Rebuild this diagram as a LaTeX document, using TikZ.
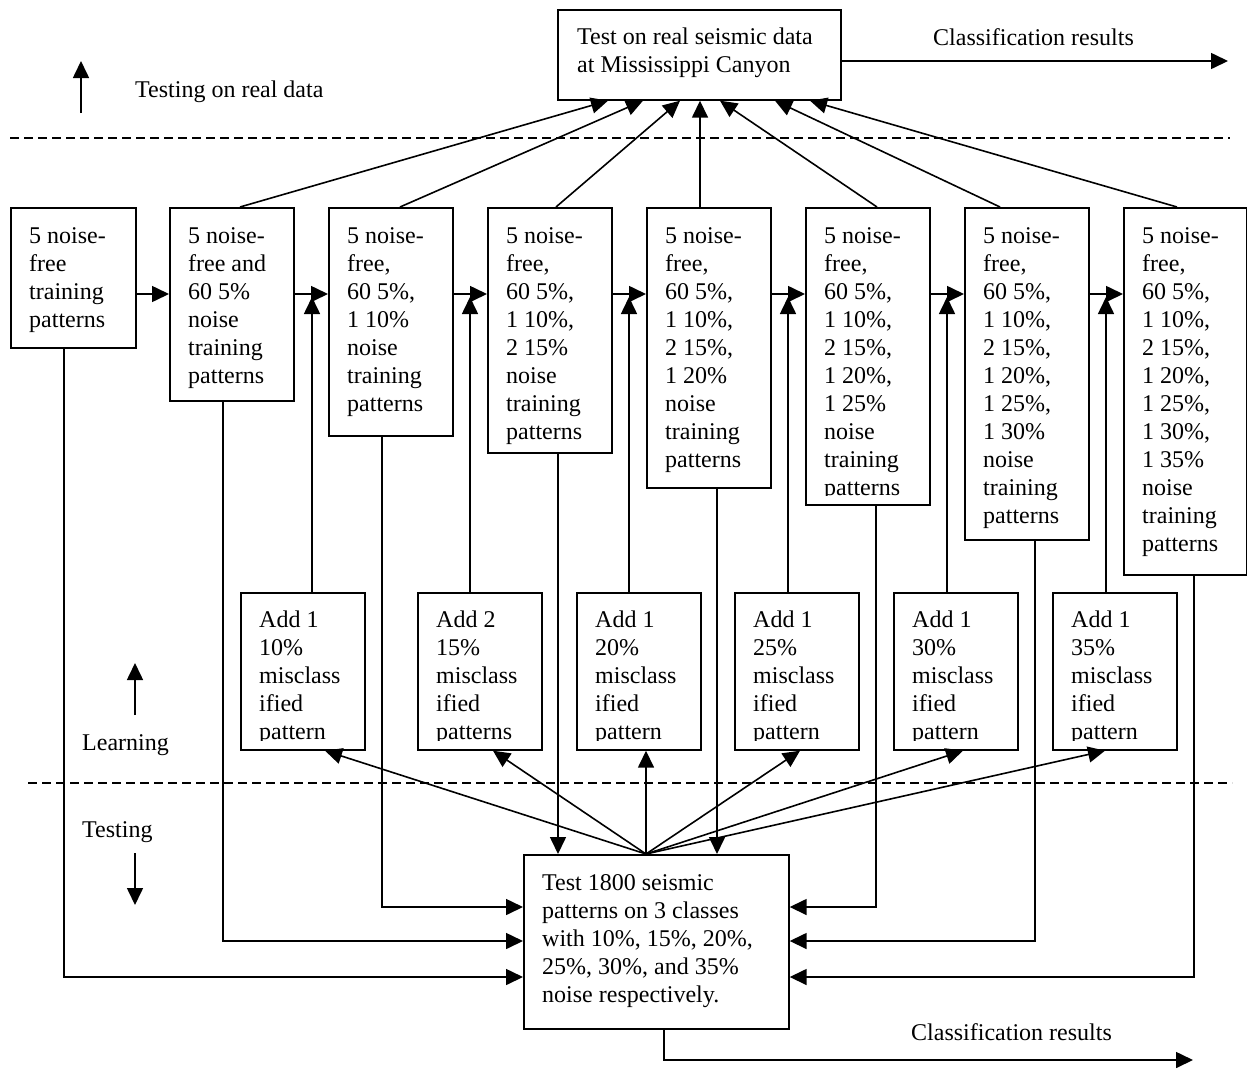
\documentclass[tikz,border=0pt]{standalone}
\usepackage{fontspec}
\setmainfont{Liberation Serif}
\usetikzlibrary{arrows.meta,calc}
\begin{document}
\begin{tikzpicture}[x=1pt,y=-1pt,
  box/.style={draw,line width=1.7pt,inner sep=0pt,anchor=north west},
  txt/.style={anchor=north west,inner sep=0pt,align=left,font=\fontsize{24}{28}\selectfont},
  lbl/.style={anchor=base west,inner sep=0pt,font=\fontsize{24}{28}\selectfont},
  arr/.style={line width=1.6pt,-{Triangle[length=17pt,width=16pt]}},
  ln/.style={line width=1.6pt},
  dsh/.style={line width=1.5pt,dash pattern=on 9pt off 5pt}]
\useasboundingbox (0,0) rectangle (1247,1071);
\fill[white] (0,0) rectangle (1247,1071);

% dashed separators
\coordinate (d1a) at (10,138);
\coordinate (d1b) at (1230,138);
\coordinate (d2a) at (28,783);
\coordinate (d2b) at (1232,783);
\draw[dsh] (d1a) -- (d1b);
\draw[dsh] (d2a) -- (d2b);

% top box
\node[box,minimum width=283pt,minimum height=90pt,fill=white] (T) at (557,9) {};
\node[txt] (Tt) at (577,24.4) {\strut Test on real seismic data\\at Mississippi Canyon};

% bottom box
\node[box,minimum width=265pt,minimum height=174pt] (B) at (523,854) {};
\node[txt] (Bt) at (542,870.4) {\strut Test 1800 seismic\\patterns on 3 classes\\with 10\%, 15\%, 20\%,\\25\%, 30\%, and 35\%\\noise respectively.};

% row of training boxes
\node[box,minimum width=125pt,minimum height=140pt] (b1) at (10,207) {};
\node[txt] (b1t) at (29,223.4) {\strut 5 noise-\\free\\training\\patterns};
\node[box,minimum width=124pt,minimum height=193pt] (b2) at (169,207) {};
\node[txt] (b2t) at (188,223.4) {\strut 5 noise-\\free and\\60 5\%\\noise\\training\\patterns};
\node[box,minimum width=124pt,minimum height=228pt] (b3) at (328,207) {};
\node[txt] (b3t) at (347,223.4) {\strut 5 noise-\\free,\\60 5\%,\\1 10\%\\noise\\training\\patterns};
\node[box,minimum width=124pt,minimum height=245pt] (b4) at (487,207) {};
\node[txt] (b4t) at (506,223.4) {\strut 5 noise-\\free,\\60 5\%,\\1 10\%,\\2 15\%\\noise\\training\\patterns};
\node[box,minimum width=124pt,minimum height=280pt] (b5) at (646,207) {};
\node[txt] (b5t) at (665,223.4) {\strut 5 noise-\\free,\\60 5\%,\\1 10\%,\\2 15\%,\\1 20\%\\noise\\training\\patterns};
\node[box,minimum width=124pt,minimum height=297pt] (b6) at (805,207) {};
\begin{scope}
\clip (805,207) rectangle (929,495);
\node[txt] (b6t) at (824,223.4) {\strut 5 noise-\\free,\\60 5\%,\\1 10\%,\\2 15\%,\\1 20\%,\\1 25\%\\noise\\training\\patterns};
\end{scope}
\node[box,minimum width=124pt,minimum height=332pt] (b7) at (964,207) {};
\node[txt] (b7t) at (983,223.4) {\strut 5 noise-\\free,\\60 5\%,\\1 10\%,\\2 15\%,\\1 20\%,\\1 25\%,\\1 30\%\\noise\\training\\patterns};
\node[box,minimum width=123pt,minimum height=367pt] (b8) at (1123,207) {};
\node[txt] (b8t) at (1142,223.4) {\strut 5 noise-\\free,\\60 5\%,\\1 10\%,\\2 15\%,\\1 20\%,\\1 25\%,\\1 30\%,\\1 35\%\\noise\\training\\patterns};

% add boxes
\foreach \n/\x/\c/\pc/\s in {1/240/1/10/pattern,2/417/2/15/patterns,3/576/1/20/pattern,4/734/1/25/pattern,5/893/1/30/pattern,6/1052/1/35/pattern}{
  \node[box,minimum width=124pt,minimum height=157pt] (a\n) at (\x,592) {};
  \begin{scope}
  \clip (\x,592) rectangle ($(\x,740)+(124,0)$);
  \node[txt] (a\n t) at ($(\x,607.4)+(19,0)$) {\strut Add \c\\\pc\%\\misclass\\ified\\\s};
  \end{scope}
}

% side labels and their arrows
\node[lbl] (lreal) at (135,97) {Testing on real data};
\node[lbl] (llearn) at (82,750) {Learning};
\node[lbl] (ltest) at (82,837) {Testing};
\node[lbl] (lcr1) at (933,45) {Classification results};
\node[lbl] (lcr2) at (911,1040) {Classification results};
\coordinate (r0) at (81,113); \coordinate (r1) at (81,61);
\coordinate (l0) at (135,715); \coordinate (l1) at (135,663);
\coordinate (t0) at (135,853); \coordinate (t1) at (135,905);
\draw[arr] (r0) -- (r1);
\draw[arr] (l0) -- (l1);
\draw[arr] (t0) -- (t1);

% outputs
\coordinate (o1y) at (0,61);
\coordinate (o1) at (1228,61);
\draw[arr] (T.east |- o1y) -- (o1);
\coordinate (o2) at (1193,1060);
\draw[arr] ([xshift=141pt]B.south west) |- (o2);

% chain arrows between training boxes
\coordinate (hrow) at (0,294);
\foreach \i/\j in {1/2,2/3,3/4,4/5,5/6,6/7,7/8}{
  \draw[arr] (b\i.east |- hrow) -- (b\j.west |- hrow);
}
% add boxes feed up into chain
\foreach \n/\x in {1/312,2/470,3/629,4/788,5/947,6/1106}{
  \coordinate (u\n) at (\x,297);
  \draw[arr] (a\n.north -| u\n) -- (u\n);
}

% training boxes to real-data test
\draw[arr] ([xshift=71pt]b2.north west) -- ([xshift=51pt]T.south west);
\draw[arr] ([xshift=72pt]b3.north west) -- ([xshift=86pt]T.south west);
\draw[arr] ([xshift=69pt]b4.north west) -- ([xshift=123pt]T.south west);
\draw[arr] ([xshift=143pt]T.south west |- b5.north) -- ([xshift=143pt]T.south west);
\draw[arr] ([xshift=72pt]b6.north west) -- ([xshift=163pt]T.south west);
\draw[arr] ([xshift=36pt]b7.north west) -- ([xshift=218pt]T.south west);
\draw[arr] ([xshift=54pt]b8.north west) -- ([xshift=253pt]T.south west);

% test box to add boxes
\draw[arr] ([xshift=123pt]B.north west) -- ([xshift=85pt]a1.south west);
\draw[arr] ([xshift=123pt]B.north west) -- ([xshift=76pt]a2.south west);
\draw[arr] ([xshift=123pt]B.north west) -- ([xshift=70pt]a3.south west);
\draw[arr] ([xshift=123pt]B.north west) -- ([xshift=66pt]a4.south west);
\draw[arr] ([xshift=123pt]B.north west) -- ([xshift=70pt]a5.south west);
\draw[arr] ([xshift=123pt]B.north west) -- ([xshift=53pt]a6.south west);

% training boxes down to test box
\coordinate (ya) at (0,907);
\coordinate (yb) at (0,941);
\coordinate (yc) at (0,977);
\draw[arr] ([xshift=54pt]b1.south west) |- (B.west |- yc);
\draw[arr] ([xshift=54pt]b2.south west) |- (B.west |- yb);
\draw[arr] ([xshift=54pt]b3.south west) |- (B.west |- ya);
\draw[arr] ([xshift=71pt]b4.south west) -- ([xshift=35pt]B.north west);
\draw[arr] ([xshift=71pt]b5.south west) -- ([xshift=194pt]B.north west);
\draw[arr] ([xshift=71pt]b6.south west) |- (B.east |- ya);
\draw[arr] ([xshift=71pt]b7.south west) |- (B.east |- yb);
\draw[arr] ([xshift=71pt]b8.south west) |- (B.east |- yc);
\end{tikzpicture}
\end{document}
